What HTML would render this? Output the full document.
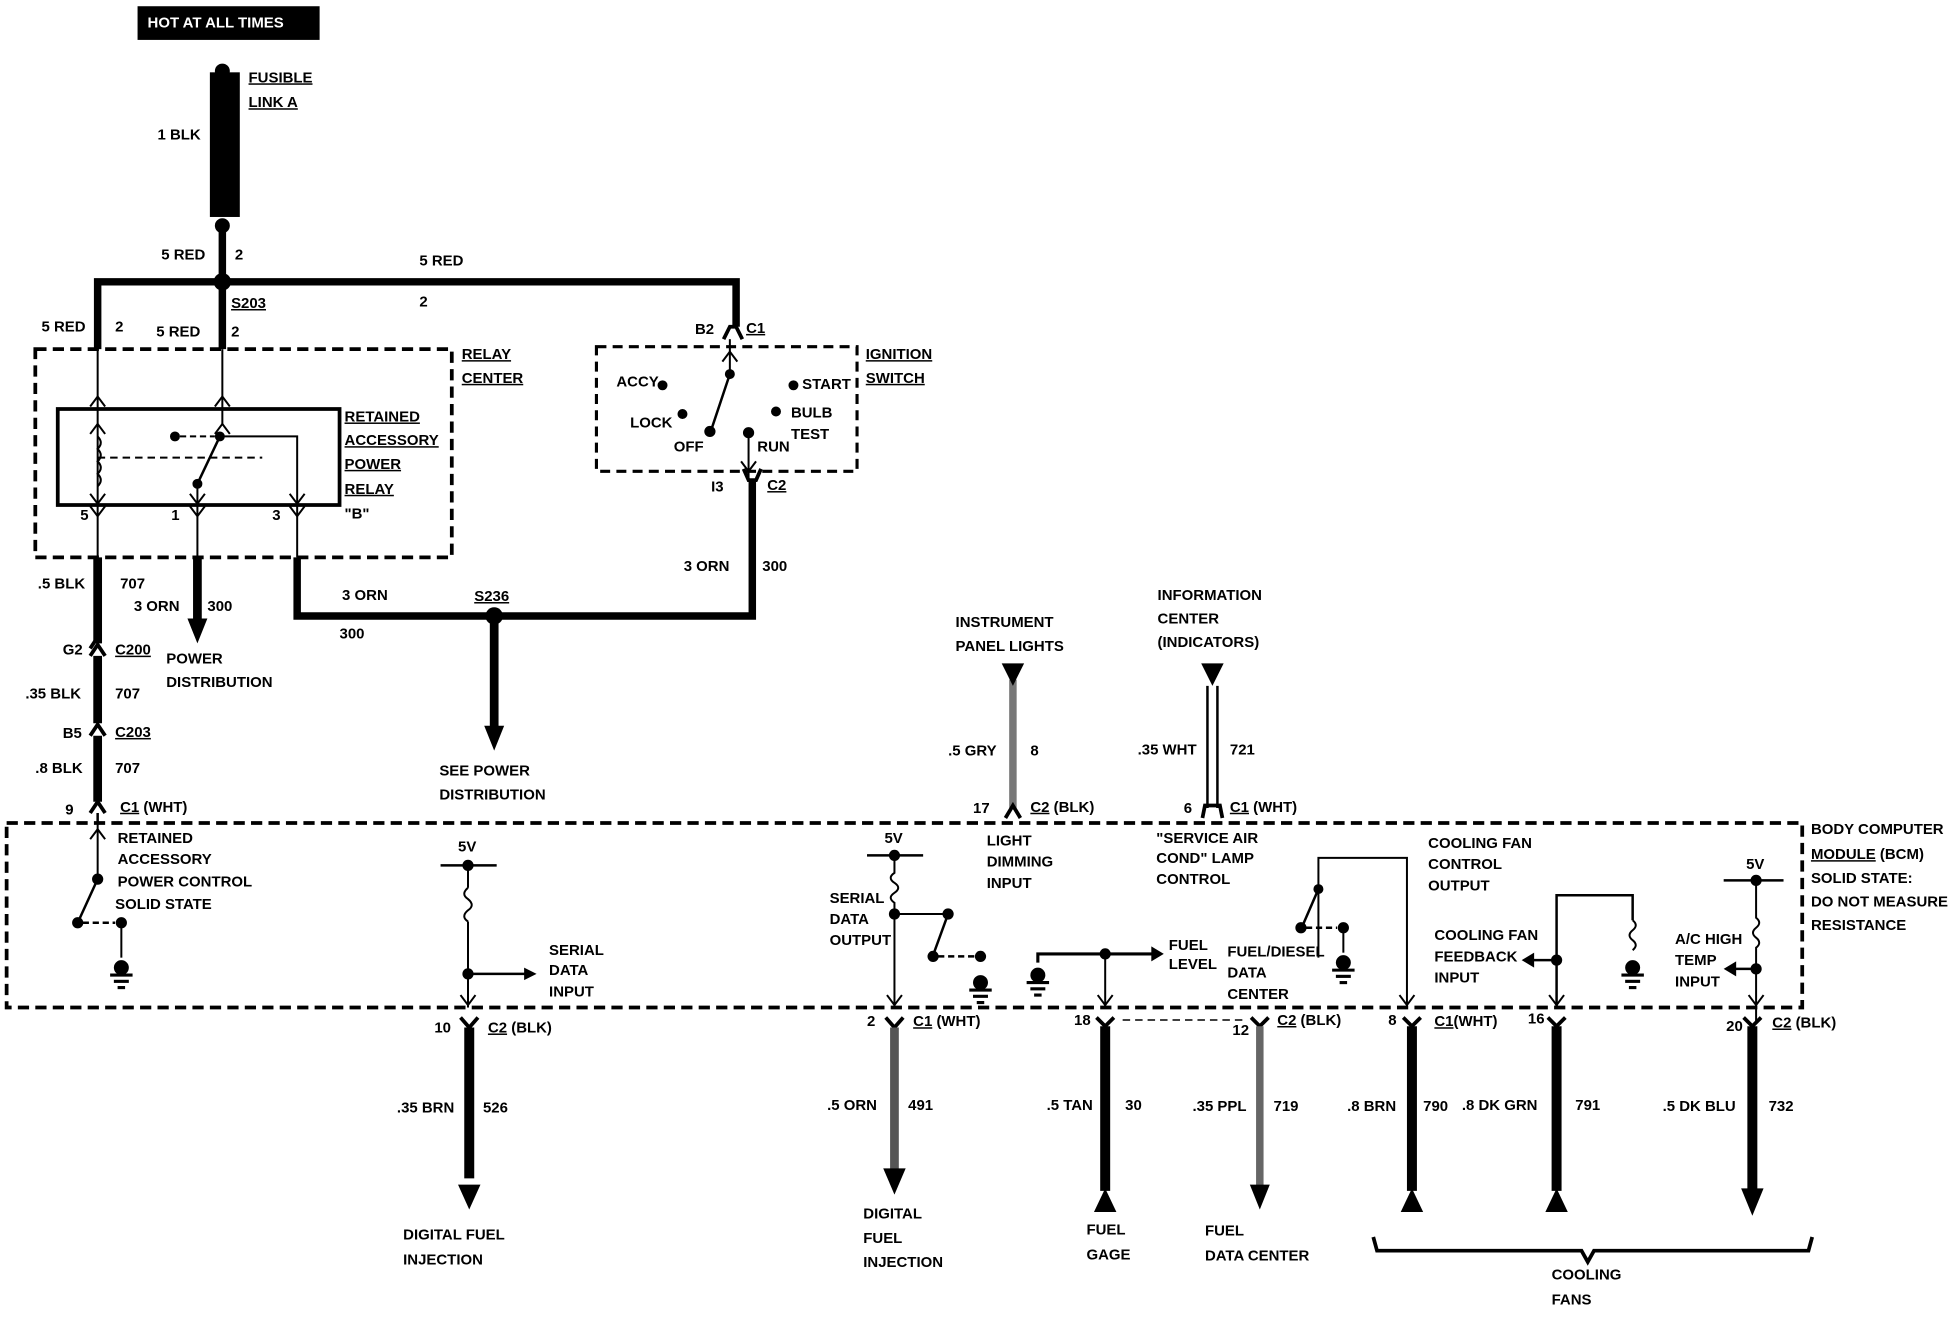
<!DOCTYPE html>
<html><head><meta charset="utf-8"><style>
html,body{margin:0;padding:0;background:#fff;}
svg{display:block;}
text{font-family:"Liberation Sans Narrow","Liberation Sans",sans-serif;font-weight:bold;font-size:12px;fill:#000;}
</style></head><body>
<svg width="1956" height="1328" viewBox="0 0 1568 1065" xmlns="http://www.w3.org/2000/svg">
<defs>
<g id="gnd"><circle cx="0" cy="-6" r="6" fill="#000" stroke="none"/><line x1="-9" y1="0" x2="9" y2="0" stroke="#000" stroke-width="2.5"/><line x1="-6" y1="5" x2="6" y2="5" stroke="#000" stroke-width="2.5"/><line x1="-3" y1="10" x2="3" y2="10" stroke="#000" stroke-width="2.5"/></g>
<g id="vdn"><polyline points="-6,-8 0,0 6,-8" fill="none" stroke="#000" stroke-width="1.6"/></g>
<g id="vup"><polyline points="-6,8 0,0 6,8" fill="none" stroke="#000" stroke-width="1.6"/></g>
</defs>
<g stroke="#000" fill="none">
<rect x="110" y="5" width="146" height="27" fill="#000" stroke="none"/>
<rect x="168" y="58" width="24" height="116" fill="#000" stroke="none"/>
<circle cx="178" cy="57" r="6" fill="#000" stroke="none"/>
<circle cx="178" cy="181" r="6" fill="#000" stroke="none"/>
<line x1="178" y1="181" x2="178" y2="280" stroke-width="6"/>
<circle cx="178" cy="226" r="7" fill="#000" stroke="none"/>
<polyline points="78,280 78,226 590,226 590,262" stroke-width="6"/>
<polyline points="580,272 585,262 590,262 595,272" stroke-width="3"/>
<rect x="28" y="280" width="334" height="167" stroke-width="3" stroke-dasharray="9,5"/>
<rect x="46" y="328" width="226" height="77" stroke-width="3"/>
<line x1="78" y1="280" x2="78" y2="405" stroke-width="1.6"/>
<line x1="178" y1="280" x2="178" y2="340" stroke-width="1.6"/>
<use href="#vup" x="78" y="318"/><use href="#vup" x="178" y="318"/>
<use href="#vup" x="78" y="340"/><use href="#vup" x="178" y="340"/>
<path d="M78,350 q5,5 0,10 q5,5 0,10 q5,5 0,10 q5,5 0,10" stroke-width="1.6"/>
<line x1="78" y1="367" x2="210" y2="367" stroke-width="1.6" stroke-dasharray="6,4"/>
<circle cx="140" cy="350" r="3.5" fill="#000"/><line x1="144" y1="350" x2="172" y2="350" stroke-width="1.6" stroke-dasharray="5,3"/>
<circle cx="176" cy="350" r="3.5" fill="#000"/>
<polyline points="176,350 238,350 238,405" stroke-width="1.6"/>
<line x1="176" y1="350" x2="158" y2="388" stroke-width="2"/><circle cx="158" cy="388" r="3.5" fill="#000"/>
<line x1="158" y1="388" x2="158" y2="447" stroke-width="1.6"/>
<use href="#vdn" x="78" y="404"/><use href="#vdn" x="158" y="404"/><use href="#vdn" x="238" y="404"/>
<use href="#vdn" x="78" y="414"/><use href="#vdn" x="158" y="414"/><use href="#vdn" x="238" y="414"/>
<line x1="78" y1="405" x2="78" y2="447" stroke-width="1.6"/>
<line x1="238" y1="405" x2="238" y2="447" stroke-width="1.6"/>
<line x1="78" y1="447" x2="78" y2="516" stroke-width="7"/>
<path d="M72,526 L78,517 L84,526 M72,520 L78,511" stroke-width="3"/>
<line x1="78" y1="526" x2="78" y2="580" stroke-width="7"/>
<path d="M72,590 L78,581 L84,590" stroke-width="3"/>
<line x1="78" y1="590" x2="78" y2="643" stroke-width="7"/>
<path d="M72,652 L78,643 L84,652" stroke-width="3"/>
<line x1="78" y1="652" x2="78" y2="660" stroke-width="2"/>
<line x1="158" y1="447" x2="158" y2="498" stroke-width="7"/>
<polygon points="150,496 166,496 158,516" fill="#000" stroke="none"/>
<polyline points="238,447 238,494 603,494 603,385" stroke-width="6"/>
<polyline points="596,376 600,385 606,385 610,376" stroke-width="3"/>
<circle cx="396" cy="494" r="7" fill="#000" stroke="none"/>
<line x1="396" y1="494" x2="396" y2="584" stroke-width="7"/>
<polygon points="388,582 404,582 396,602" fill="#000" stroke="none"/>
<rect x="478" y="278" width="209" height="100" stroke-width="2.5" stroke-dasharray="8,5"/>
<line x1="585" y1="272" x2="585" y2="300" stroke-width="1.6"/><use href="#vup" x="585" y="282"/>
<circle cx="585" cy="300" r="3.5" fill="#000"/>
<line x1="585" y1="300" x2="570" y2="345" stroke-width="2"/><circle cx="569" cy="346" r="4" fill="#000"/>
<circle cx="531" cy="309" r="3.5" fill="#000"/><circle cx="547" cy="332" r="3.5" fill="#000"/>
<circle cx="636" cy="309" r="3.5" fill="#000"/><circle cx="622" cy="330" r="3.5" fill="#000"/>
<circle cx="600" cy="347" r="4" fill="#000"/>
<line x1="600" y1="347" x2="600" y2="385" stroke-width="1.6"/><use href="#vdn" x="600" y="378"/>
<line x1="812" y1="545" x2="812" y2="648" stroke="#777" stroke-width="6"/>
<polygon points="803,532 821,532 812,550" fill="#000" stroke="none"/>
<path d="M806,656 L812,646 L818,656" stroke-width="3"/>
<line x1="968" y1="550" x2="968" y2="648" stroke-width="2"/><line x1="976" y1="550" x2="976" y2="648" stroke-width="2"/>
<polygon points="963,532 981,532 972,550" fill="#000" stroke="none"/>
<path d="M964,656 L966,646 L978,646 L980,656" stroke-width="3"/>
<rect x="5" y="660" width="1440" height="148" stroke-width="3" stroke-dasharray="9,5"/>
<line x1="78" y1="660" x2="78" y2="705" stroke-width="1.6"/><use href="#vup" x="78" y="665"/>
<circle cx="78" cy="705" r="4" fill="#000"/><line x1="78" y1="705" x2="62" y2="740" stroke-width="2"/>
<circle cx="62" cy="740" r="4" fill="#000"/><line x1="66" y1="740" x2="92" y2="740" stroke-width="2" stroke-dasharray="5,3"/>
<circle cx="97" cy="740" r="4" fill="#000"/><line x1="97" y1="740" x2="97" y2="768" stroke-width="1.6"/>
<use href="#gnd" x="97" y="782"/>
<line x1="353" y1="694" x2="398" y2="694" stroke-width="2"/><circle cx="375" cy="694" r="4" fill="#000"/>
<line x1="375" y1="694" x2="375" y2="712" stroke-width="1.6"/>
<path d="M375,712 q-6,5 0,9 q6,5 0,9 q-6,5 0,9" stroke-width="1.6"/>
<line x1="375" y1="739" x2="375" y2="808" stroke-width="1.6"/>
<circle cx="375" cy="781" r="4" fill="#000"/><line x1="375" y1="781" x2="422" y2="781" stroke-width="2"/>
<polygon points="420,776 430,781 420,786" fill="#000" stroke="none"/>
<use href="#vdn" x="375" y="806"/>
<path d="M369,816 L376,824 L383,816" stroke-width="3"/>
<line x1="376" y1="824" x2="376" y2="945" stroke-width="8"/>
<polygon points="367,950 385,950 376,970" fill="#000" stroke="none"/>
<line x1="695" y1="686" x2="740" y2="686" stroke-width="2"/><circle cx="717" cy="686" r="4" fill="#000"/>
<path d="M717,690 v10 q-6,4 0,8 q6,4 0,8 q-6,4 0,8 v9" stroke-width="1.6"/>
<line x1="717" y1="733" x2="717" y2="808" stroke-width="1.6"/>
<circle cx="717" cy="733" r="4" fill="#000"/>
<polyline points="717,733 760,733" stroke-width="1.6"/><circle cx="760" cy="733" r="4" fill="#000"/>
<line x1="760" y1="733" x2="748" y2="766" stroke-width="2"/><circle cx="748" cy="767" r="4" fill="#000"/>
<line x1="752" y1="767" x2="782" y2="767" stroke-width="2" stroke-dasharray="5,3"/><circle cx="786" cy="767" r="4" fill="#000"/>
<use href="#gnd" x="786" y="794"/>
<use href="#vdn" x="717" y="806"/>
<path d="M710,816 L717,824 L724,816" stroke-width="3"/>
<line x1="717" y1="824" x2="717" y2="938" stroke="#555" stroke-width="7"/>
<polygon points="708,937 726,937 717,958" fill="#000" stroke="none"/>
<use href="#gnd" x="832" y="788"/>
<polyline points="832,772 832,765 926,765" stroke-width="2.5"/>
<polygon points="923,759 933,765 923,771" fill="#000" stroke="none"/>
<circle cx="886" cy="765" r="4" fill="#000"/>
<line x1="886" y1="765" x2="886" y2="808" stroke-width="1.6"/><use href="#vdn" x="886" y="806"/>
<path d="M879,816 L886,823 L893,816" stroke-width="3"/>
<line x1="886" y1="823" x2="886" y2="955" stroke-width="8"/>
<polygon points="877,972 895,972 886,953" fill="#000" stroke="none"/>
<line x1="900" y1="818" x2="1000" y2="818" stroke-width="1.2" stroke-dasharray="6,4"/>
<path d="M1003,816 L1010,823 L1017,816" stroke-width="3"/>
<line x1="1010" y1="823" x2="1010" y2="952" stroke="#666" stroke-width="6"/>
<polygon points="1002,950 1018,950 1010,970" fill="#000" stroke="none"/>
<polyline points="1057,768 1057,688 1128,688 1128,808" stroke-width="1.6"/>
<circle cx="1057" cy="713" r="3.5" fill="#000"/><line x1="1057" y1="713" x2="1044" y2="743" stroke-width="2"/>
<circle cx="1043" cy="744" r="4" fill="#000"/><line x1="1047" y1="744" x2="1072" y2="744" stroke-width="2" stroke-dasharray="5,3"/>
<circle cx="1077" cy="744" r="4" fill="#000"/><line x1="1077" y1="744" x2="1077" y2="764" stroke-width="1.6"/>
<use href="#gnd" x="1077" y="778"/>
<use href="#vdn" x="1128" y="806"/>
<path d="M1125,816 L1132,823 L1139,816" stroke-width="3"/>
<line x1="1132" y1="823" x2="1132" y2="955" stroke-width="8"/>
<polygon points="1123,972 1141,972 1132,953" fill="#000" stroke="none"/>
<polyline points="1248,808 1248,718 1309,718 1309,738" stroke-width="2"/>
<path d="M1309,738 q5,4 0,8 q-5,4 0,8 q5,4 0,8" stroke-width="1.6"/>
<use href="#gnd" x="1309" y="782"/>
<circle cx="1248" cy="770" r="4" fill="#000"/><line x1="1248" y1="770" x2="1228" y2="770" stroke-width="2"/>
<polygon points="1230,764 1220,770 1230,776" fill="#000" stroke="none"/>
<use href="#vdn" x="1248" y="806"/>
<path d="M1241,816 L1248,823 L1255,816" stroke-width="3"/>
<line x1="1248" y1="823" x2="1248" y2="955" stroke-width="8"/>
<polygon points="1239,972 1257,972 1248,953" fill="#000" stroke="none"/>
<line x1="1382" y1="706" x2="1430" y2="706" stroke-width="2"/><circle cx="1408" cy="706" r="4" fill="#000"/>
<path d="M1408,706 v30 q5,4 0,8 q-5,4 0,8 q5,4 0,8 v60" stroke-width="1.6"/>
<circle cx="1408" cy="777" r="4" fill="#000"/><line x1="1408" y1="777" x2="1390" y2="777" stroke-width="2"/>
<polygon points="1392,771 1382,777 1392,783" fill="#000" stroke="none"/>
<use href="#vdn" x="1408" y="806"/>
<path d="M1398,816 L1405,823 L1412,816" stroke-width="3"/>
<line x1="1405" y1="823" x2="1405" y2="955" stroke-width="8"/>
<polygon points="1396,953 1414,953 1405,975" fill="#000" stroke="none"/>
<polyline points="1101,992 1104,1003 1268,1003 1273,1012 1278,1003 1450,1003 1453,992" stroke-width="3"/>
</g>
<g>
<text x="118" y="22" style="fill:#fff">HOT AT ALL TIMES</text>
<text x="199" y="66" text-decoration="underline">FUSIBLE</text>
<text x="199" y="86" text-decoration="underline">LINK A</text>
<text x="126" y="112">1 BLK</text>
<text x="129" y="208">5 RED</text><text x="188" y="208">2</text>
<text x="336" y="213">5 RED</text><text x="336" y="246">2</text>
<text x="185" y="247" text-decoration="underline">S203</text>
<text x="33" y="266">5 RED</text><text x="92" y="266">2</text>
<text x="125" y="270">5 RED</text><text x="185" y="270">2</text>
<text x="370" y="288" text-decoration="underline">RELAY</text>
<text x="370" y="307" text-decoration="underline">CENTER</text>
<text x="276" y="338" text-decoration="underline">RETAINED</text>
<text x="276" y="357" text-decoration="underline">ACCESSORY</text>
<text x="276" y="376" text-decoration="underline">POWER</text>
<text x="276" y="396" text-decoration="underline">RELAY</text>
<text x="276" y="416">"B"</text>
<text x="64" y="417">5</text><text x="137" y="417">1</text><text x="218" y="417">3</text>
<text x="557" y="268">B2</text><text x="598" y="267" text-decoration="underline">C1</text>
<text x="694" y="288" text-decoration="underline">IGNITION</text>
<text x="694" y="307" text-decoration="underline">SWITCH</text>
<text x="494" y="310">ACCY</text><text x="643" y="312">START</text>
<text x="505" y="343">LOCK</text><text x="634" y="335">BULB</text><text x="634" y="352">TEST</text>
<text x="540" y="362">OFF</text><text x="607" y="362">RUN</text>
<text x="570" y="394">I3</text><text x="615" y="393" text-decoration="underline">C2</text>
<text x="548" y="458">3 ORN</text><text x="611" y="458">300</text>
<text x="30" y="472">.5 BLK</text><text x="96" y="472">707</text>
<text x="107" y="490">3 ORN</text><text x="166" y="490">300</text>
<text x="274" y="481">3 ORN</text><text x="272" y="512">300</text>
<text x="380" y="482" text-decoration="underline">S236</text>
<text x="133" y="532">POWER</text><text x="133" y="551">DISTRIBUTION</text>
<text x="50" y="525">G2</text><text x="92" y="525" text-decoration="underline">C200</text>
<text x="20" y="560">.35 BLK</text><text x="92" y="560">707</text>
<text x="50" y="592">B5</text><text x="92" y="591" text-decoration="underline">C203</text>
<text x="28" y="620">.8 BLK</text><text x="92" y="620">707</text>
<text x="52" y="653">9</text><text x="96" y="651"><tspan text-decoration="underline">C1</tspan> (WHT)</text>
<text x="352" y="622">SEE POWER</text><text x="352" y="641">DISTRIBUTION</text>
<text x="766" y="503">INSTRUMENT</text><text x="766" y="522">PANEL LIGHTS</text>
<text x="928" y="481">INFORMATION</text><text x="928" y="500">CENTER</text><text x="928" y="519">(INDICATORS)</text>
<text x="760" y="606">.5 GRY</text><text x="826" y="606">8</text>
<text x="912" y="605">.35 WHT</text><text x="986" y="605">721</text>
<text x="780" y="652">17</text><text x="826" y="651"><tspan text-decoration="underline">C2</tspan> (BLK)</text>
<text x="949" y="652">6</text><text x="986" y="651"><tspan text-decoration="underline">C1</tspan> (WHT)</text>
<text x="1452" y="669">BODY COMPUTER</text>
<text x="1452" y="689"><tspan text-decoration="underline">MODULE</tspan> (BCM)</text>
<text x="1452" y="708">SOLID STATE:</text>
<text x="1452" y="727">DO NOT MEASURE</text>
<text x="1452" y="746">RESISTANCE</text>
<g style="font-size:11px">
<text x="94" y="676">RETAINED</text><text x="94" y="693">ACCESSORY</text><text x="94" y="711">POWER CONTROL</text><text x="92" y="729">SOLID STATE</text>
<text x="367" y="683">5V</text>
<text x="440" y="766">SERIAL</text><text x="440" y="782">DATA</text><text x="440" y="799">INPUT</text>
<text x="709" y="676">5V</text>
<text x="665" y="724">SERIAL</text><text x="665" y="741">DATA</text><text x="665" y="758">OUTPUT</text>
<text x="791" y="678">LIGHT</text><text x="791" y="695">DIMMING</text><text x="791" y="712">INPUT</text>
<text x="927" y="676">"SERVICE AIR</text><text x="927" y="692">COND" LAMP</text><text x="927" y="709">CONTROL</text>
<text x="937" y="762">FUEL</text><text x="937" y="777">LEVEL</text>
<text x="984" y="767">FUEL/DIESEL</text><text x="984" y="784">DATA</text><text x="984" y="801">CENTER</text>
<text x="1145" y="680">COOLING FAN</text><text x="1145" y="697">CONTROL</text><text x="1145" y="714">OUTPUT</text>
<text x="1150" y="754">COOLING FAN</text><text x="1150" y="771">FEEDBACK</text><text x="1150" y="788">INPUT</text>
<text x="1400" y="697">5V</text>
<text x="1343" y="757">A/C HIGH</text><text x="1343" y="774">TEMP</text><text x="1343" y="791">INPUT</text>
</g>
<text x="348" y="828">10</text><text x="391" y="828"><tspan text-decoration="underline">C2</tspan> (BLK)</text>
<text x="695" y="823">2</text><text x="732" y="823"><tspan text-decoration="underline">C1</tspan> (WHT)</text>
<text x="861" y="822">18</text>
<text x="988" y="830">12</text><text x="1024" y="822"><tspan text-decoration="underline">C2</tspan> (BLK)</text>
<text x="1113" y="822">8</text><text x="1150" y="823"><tspan text-decoration="underline">C1</tspan>(WHT)</text>
<text x="1225" y="821">16</text>
<text x="1384" y="827">20</text><text x="1421" y="824"><tspan text-decoration="underline">C2</tspan> (BLK)</text>
<text x="318" y="892">.35 BRN</text><text x="387" y="892">526</text>
<text x="663" y="890">.5 ORN</text><text x="728" y="890">491</text>
<text x="839" y="890">.5 TAN</text><text x="902" y="890">30</text>
<text x="956" y="891">.35 PPL</text><text x="1021" y="891">719</text>
<text x="1080" y="891">.8 BRN</text><text x="1141" y="891">790</text>
<text x="1172" y="890">.8 DK GRN</text><text x="1263" y="890">791</text>
<text x="1333" y="891">.5 DK BLU</text><text x="1418" y="891">732</text>
<text x="323" y="994">DIGITAL FUEL</text><text x="323" y="1014">INJECTION</text>
<text x="692" y="977">DIGITAL</text><text x="692" y="997">FUEL</text><text x="692" y="1016">INJECTION</text>
<text x="871" y="990">FUEL</text><text x="871" y="1010">GAGE</text>
<text x="966" y="991">FUEL</text><text x="966" y="1011">DATA CENTER</text>
<text x="1244" y="1026">COOLING</text><text x="1244" y="1046">FANS</text>
</g>
</svg>
</body></html>
